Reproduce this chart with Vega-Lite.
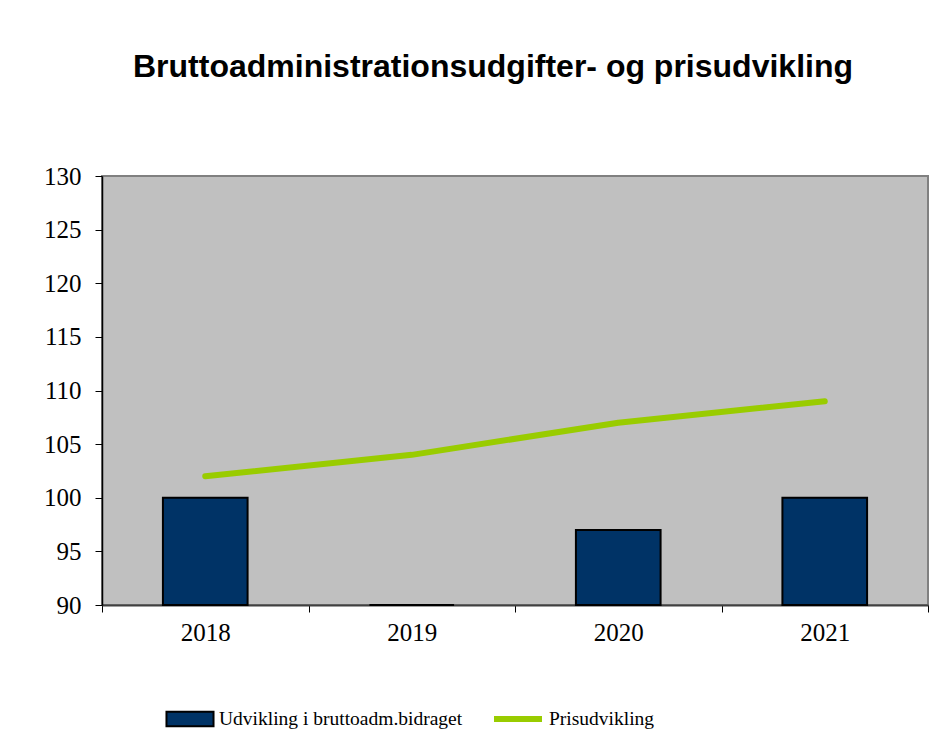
{
  "$schema": "https://vega.github.io/schema/vega-lite/v6.json",
  "autosize": "none",
  "width": 826,
  "height": 429,
  "padding": {"left": 102, "top": 176, "right": 12, "bottom": 146},
  "background": "white",
  "title": {
    "text": "Bruttoadministrationsudgifter- og prisudvikling",
    "font": "Liberation Sans",
    "fontSize": 32,
    "fontWeight": "bold",
    "color": "black",
    "anchor": "middle",
    "dx": -22,
    "offset": 80
  },
  "data": {
    "values": [
      {"year": "2018", "bidrag": 100, "pris": 102},
      {"year": "2019", "bidrag": 90, "pris": 104},
      {"year": "2020", "bidrag": 97, "pris": 107},
      {"year": "2021", "bidrag": 100, "pris": 109}
    ]
  },
  "encoding": {
    "x": {
      "field": "year",
      "type": "ordinal",
      "scale": {"paddingInner": 0, "paddingOuter": 0},
      "axis": {
        "title": null,
        "labelAngle": 0,
        "labelFont": "Liberation Serif",
        "labelFontSize": 25,
        "labelColor": "black",
        "labelPadding": 8,
        "tickBand": "extent",
        "tickSize": 7,
        "tickColor": "black",
        "domainColor": "#404040",
        "domainWidth": 2
      }
    }
  },
  "layer": [
    {
      "mark": {"type": "bar", "width": {"band": 0.41}, "stroke": "black", "strokeWidth": 2},
      "encoding": {
        "y": {
          "field": "bidrag",
          "type": "quantitative",
          "scale": {"domain": [90, 130], "zero": false, "nice": false},
          "axis": {
            "title": null,
            "values": [90, 95, 100, 105, 110, 115, 120, 125, 130],
            "grid": false,
            "labelFont": "Liberation Serif",
            "labelFontSize": 25,
            "labelColor": "black",
            "labelPadding": 14,
            "tickSize": 7,
            "tickColor": "black",
            "domainColor": "black",
            "domainWidth": 1.5
          }
        },
        "y2": {"datum": 90},
        "fill": {
          "datum": "Udvikling i bruttoadm.bidraget",
          "scale": {"range": ["#003366"]},
          "legend": {
            "orient": "none",
            "legendX": 63,
            "legendY": 518,
            "symbolType": "M-0.98,-0.3H0.98V0.3H-0.98Z",
            "symbolStrokeColor": "black",
            "symbolStrokeWidth": 2
          }
        }
      }
    },
    {
      "mark": {"type": "line", "strokeWidth": 6, "strokeCap": "round", "strokeJoin": "round"},
      "encoding": {
        "y": {"field": "pris", "type": "quantitative"},
        "stroke": {
          "datum": "Prisudvikling",
          "scale": {"range": ["#99CC00"]},
          "legend": {
            "orient": "none",
            "legendX": 389,
            "legendY": 516,
            "symbolType": "stroke",
            "symbolStrokeWidth": 6
          }
        }
      }
    }
  ],
  "resolve": {"scale": {"fill": "independent", "stroke": "independent"}},
  "config": {
    "view": {"fill": "#C0C0C0", "stroke": "#808080", "strokeWidth": 2},
    "legend": {
      "direction": "horizontal",
      "title": null,
      "labelFont": "Liberation Serif",
      "labelFontSize": 19.5,
      "labelColor": "black",
      "labelOffset": 4,
      "labelLimit": 0,
      "symbolSize": 2304
    }
  }
}
